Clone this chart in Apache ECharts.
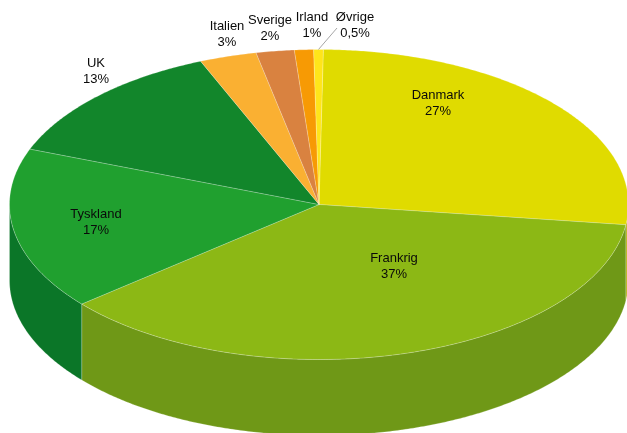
<!DOCTYPE html>
<html>
<head>
<meta charset="utf-8">
<title>Fordeling pr. land</title>
<script src="https://cdn.jsdelivr.net/npm/echarts@6/dist/echarts.min.js"></script>
<style>
  html, body { margin: 0; padding: 0; background: #fff; overflow: hidden; }
  #chart { width: 627px; height: 433px; }
</style>
</head>
<body>
<div id="chart"></div>
<script>
// Shares per country, in percent, clockwise from the top of the pie
const categories = ['Danmark', 'Frankrig', 'Tyskland', 'UK', 'Italien', 'Sverige', 'Irland', 'Øvrige'];
const shares = [27, 37, 17, 13, 3, 2, 1, 0.5];

// Fill colours for the top face and the outer wall of each slice
const topColors = ['#e0db00', '#8cb815', '#20a02f', '#12862b', '#fab032', '#d98240', '#f79a04', '#ffe51a'];
const wallColors = ['#b5b010', '#6f9817', '#0b7628', '#0b6a22', '#c88c28', '#ad6833', '#c67b03', '#ccb715'];

// Pie projection: a tilted disc drawn as an ellipse with a vertical wall
const pie = { cx: 319, cy: 204.5, rx: 309.5, ry: 155, depth: 76, startDeg: 0.8 };
const seam = 'rgba(255,255,255,0.35)';

// Label centres for each country
const labelAt = {
  Danmark: [438, 103], Frankrig: [394, 266], Tyskland: [96, 222], UK: [96, 71],
  'Italien': [227, 34], Sverige: [270, 28], Irland: [312, 25], 'Øvrige': [355, 25]
};
const labelFont = '13px "Liberation Sans", Arial, sans-serif';

const total = shares.reduce((a, b) => a + b, 0);
const toRad = d => d * Math.PI / 180;

function rim(deg, drop) {
  return [
    pie.cx + pie.rx * Math.sin(toRad(deg)),
    pie.cy - pie.ry * Math.cos(toRad(deg)) + (drop || 0)
  ];
}

function arc(from, to, drop) {
  const pts = [];
  const n = Math.max(2, Math.ceil(Math.abs(to - from) * 2));
  for (let i = 0; i <= n; i++) pts.push(rim(from + (to - from) * i / n, drop));
  return pts;
}

function renderSlice(params, api) {
  const i = params.dataIndex;
  const value = api.value(0);
  let before = 0;
  for (let k = 0; k < i; k++) before += shares[k];
  const a = pie.startDeg + before / total * 360;
  const b = a + value / total * 360;
  const children = [];

  // Only the front half of the wall faces the viewer
  const wa = Math.max(a, 90), wb = Math.min(b, 270);
  if (wb > wa) {
    children.push({
      type: 'polygon',
      shape: { points: arc(wa, wb, 0).concat(arc(wb, wa, pie.depth)) },
      style: { fill: wallColors[i], stroke: seam, lineWidth: 0.6 }
    });
  }

  children.push({
    type: 'polygon',
    shape: { points: [[pie.cx, pie.cy]].concat(arc(a, b, 0)) },
    style: { fill: topColors[i], stroke: seam, lineWidth: 0.6 }
  });

  const name = categories[i];
  const at = labelAt[name];

  // The smallest slice sits too tight for its label, so it gets a leader line
  if (name === 'Øvrige') {
    const tip = rim((a + b) / 2);
    children.push({
      type: 'line',
      shape: { x1: tip[0], y1: tip[1], x2: at[0] - 18, y2: at[1] + 3 },
      style: { stroke: '#a6a6a6', lineWidth: 1 }
    });
  }

  children.push({
    type: 'text',
    style: {
      text: name + '\n' + String(value).replace('.', ',') + '%',
      x: at[0], y: at[1],
      align: 'center', verticalAlign: 'middle',
      font: labelFont, lineHeight: 16, fill: '#0a0a0a'
    }
  });

  return { type: 'group', children };
}

const chart = echarts.init(document.getElementById('chart'), null, { renderer: 'canvas' });
chart.setOption({
  animation: false,
  backgroundColor: '#ffffff',
  series: [{
    type: 'custom',
    coordinateSystem: 'none',
    silent: true,
    clip: false,
    data: shares.map(v => [v]),
    renderItem: renderSlice
  }]
});
</script>
</body>
</html>
